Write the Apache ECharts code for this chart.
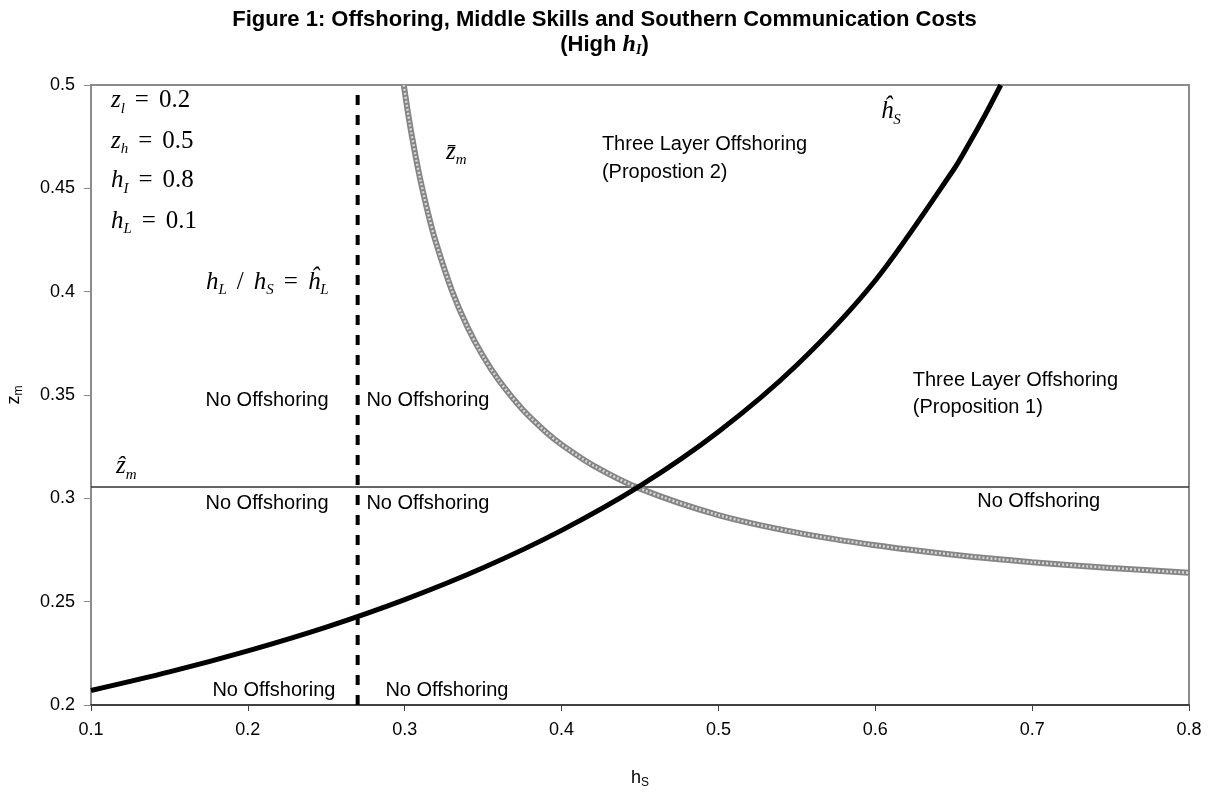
<!DOCTYPE html>
<html>
<head>
<meta charset="utf-8">
<title>Figure 1: Offshoring, Middle Skills and Southern Communication Costs</title>
<script src="https://cdn.jsdelivr.net/npm/echarts@6/dist/echarts.min.js"></script>
<style>
    html, body { margin: 0; padding: 0; background: #fff; }
    #chart { width: 1209px; height: 805px; }
</style>
</head>
<body>
<div id="chart"></div>
<script>
// ĥ_S boundary (thick black curve)
const hHatSX = [0.10, 0.15, 0.20, 0.25, 0.30, 0.35, 0.40, 0.45, 0.50, 0.55, 0.60, 0.65, 0.66, 0.67, 0.68];
const hHatSY = [0.2070, 0.2160, 0.2262, 0.2377, 0.2510, 0.2664, 0.2845, 0.3060, 0.3322, 0.3645, 0.4054, 0.4591, 0.4719, 0.4855, 0.5000];

// z̄_m boundary (grey curve)
const zBarX = [0.2994, 0.303, 0.307, 0.31, 0.315, 0.32, 0.33, 0.34, 0.35, 0.36, 0.375, 0.39, 0.40, 0.42, 0.45, 0.50, 0.55, 0.60, 0.65, 0.70, 0.75, 0.80];
const zBarY = [0.500, 0.4822, 0.4653, 0.4540, 0.4376, 0.4236, 0.4007, 0.3829, 0.3687, 0.3571, 0.3431, 0.3321, 0.3260, 0.3160, 0.3047, 0.2919, 0.2834, 0.2773, 0.2727, 0.2691, 0.2663, 0.2640];

// ẑ_m level and the h_L / h_S = ĥ_L cut-off
const zHatLevel = 0.3055;
const hLCut = 0.270;

// axes
const xTicks = [0.1, 0.8, 0.1];          // min, max, interval
const yTicks = [0.2, 0.5, 0.05];

const serif = "'Liberation Serif', 'DejaVu Serif', serif";
const sans = "'Liberation Sans', Arial, sans-serif";

const mathRich = {
    v: { fontFamily: serif, fontStyle: 'italic', fontSize: 25, lineHeight: 32, color: '#000' },
    r: { fontFamily: serif, fontSize: 25, lineHeight: 32, color: '#000' },
    g: { fontFamily: serif, fontSize: 25, lineHeight: 32, color: '#000', padding: [0, 10, 0, 10] },
    s: { fontFamily: serif, fontStyle: 'italic', fontSize: 15, lineHeight: 15, verticalAlign: 'bottom', color: '#000' }
};

// annotations: [h, z, text, align, math?]
const notes = [
    [0.1127, 0.4927, '{v|z}{s|l}{g|=}{r|0.2}', 'left', true],
    [0.1127, 0.4729, '{v|z}{s|h}{g|=}{r|0.5}', 'left', true],
    [0.1127, 0.4540, '{v|h}{s|I}{g|=}{r|0.8}', 'left', true],
    [0.1127, 0.4342, '{v|h}{s|L}{g|=}{r|0.1}', 'left', true],
    [0.1733, 0.4047, '{v|h}{s|L}{g|/}{v|h}{s|S}{g|=}{v|ĥ}{s|L}', 'left', true],
    [0.116, 0.3156, '{v|ẑ}{s|m}', 'left', true],
    [0.3263, 0.4676, '{v|z\u0304}{s|m}', 'left', true],
    [0.6035, 0.4870, '{v|ĥ}{s|S}', 'left', true],
    [0.4257, 0.4710, 'Three Layer Offshoring', 'left', false],
    [0.4257, 0.4579, '(Propostion 2)', 'left', false],
    [0.6239, 0.3572, 'Three Layer Offshoring', 'left', false],
    [0.6239, 0.3442, '(Proposition 1)', 'left', false],
    [0.2122, 0.3475, 'No Offshoring', 'center', false],
    [0.3148, 0.3475, 'No Offshoring', 'center', false],
    [0.2122, 0.2977, 'No Offshoring', 'center', false],
    [0.3148, 0.2977, 'No Offshoring', 'center', false],
    [0.2166, 0.2072, 'No Offshoring', 'center', false],
    [0.3269, 0.2072, 'No Offshoring', 'center', false],
    [0.7042, 0.2985, 'No Offshoring', 'center', false]
];

function zip(xs, ys) {
    return xs.map((x, i) => [x, ys[i]]);
}

function initChart() {
    const chart = echarts.init(document.getElementById('chart'));
    const zBarData = zip(zBarX, zBarY);
    const option = {
        animation: false,
        backgroundColor: '#fff',
        title: {
            left: 'center',
            top: 2,
            text: '{t|Figure 1: Offshoring, Middle Skills and Southern Communication Costs}\n{t|(High }{h|h}{i|I}{t|)}',
            textStyle: {
                rich: {
                    t: { fontFamily: sans, fontWeight: 'bold', fontSize: 22, lineHeight: 25, color: '#000' },
                    h: { fontFamily: serif, fontWeight: 'bold', fontStyle: 'italic', fontSize: 24, lineHeight: 25, color: '#000' },
                    i: { fontFamily: serif, fontWeight: 'bold', fontStyle: 'italic', fontSize: 14, lineHeight: 12, verticalAlign: 'bottom', color: '#000' }
                }
            }
        },
        grid: {
            left: 91, right: 20, top: 85, bottom: 100,
            containLabel: false,
            outerBoundsMode: 'none',
            show: true,
            borderColor: '#8c8c8c',
            borderWidth: 2
        },
        xAxis: {
            type: 'value',
            min: xTicks[0], max: xTicks[1], interval: xTicks[2],
            name: '{a|h}{b|S}',
            nameLocation: 'middle',
            nameGap: 62,
            nameTextStyle: {
                rich: {
                    a: { fontFamily: sans, fontSize: 18, lineHeight: 22, color: '#000' },
                    b: { fontFamily: sans, fontSize: 12, lineHeight: 12, verticalAlign: 'bottom', color: '#000' }
                }
            },
            axisLine: { onZero: false, lineStyle: { color: '#404040', width: 2 } },
            axisTick: { inside: false, length: 6, lineStyle: { color: '#404040' } },
            axisLabel: { fontFamily: sans, fontSize: 18, color: '#000', margin: 16 },
            splitLine: { show: false }
        },
        yAxis: {
            type: 'value',
            min: yTicks[0], max: yTicks[1], interval: yTicks[2],
            name: '{a|z}{b|m}',
            nameLocation: 'middle',
            nameGap: 66,
            nameRotate: 90,
            nameTextStyle: {
                rich: {
                    a: { fontFamily: sans, fontSize: 18, lineHeight: 22, color: '#000' },
                    b: { fontFamily: sans, fontSize: 12, lineHeight: 12, verticalAlign: 'bottom', color: '#000' }
                }
            },
            axisLine: { onZero: false, lineStyle: { color: '#8c8c8c', width: 2 } },
            axisTick: { inside: false, length: 7, lineStyle: { color: '#8c8c8c' } },
            axisLabel: { fontFamily: sans, fontSize: 18, color: '#000', margin: 16 },
            splitLine: { show: false }
        },
        series: [
            {
                name: 'zhat',
                type: 'line',
                data: [[xTicks[0], zHatLevel], [xTicks[1], zHatLevel]],
                showSymbol: false,
                lineStyle: { color: '#333', width: 1.5 },
                z: 2
            },
            {
                name: 'hLcut',
                type: 'line',
                data: [[hLCut, yTicks[0]], [hLCut, yTicks[1]]],
                showSymbol: false,
                lineStyle: { color: '#000', width: 4, type: [10, 10] },
                z: 3
            },
            {
                name: 'zbar',
                type: 'line',
                data: zBarData,
                smooth: 0.3,
                showSymbol: false,
                lineStyle: { color: '#858585', width: 6 },
                z: 4
            },
            {
                name: 'zbarTexture',
                type: 'line',
                data: zBarData,
                smooth: 0.3,
                showSymbol: false,
                lineStyle: { color: '#d6d6d6', width: 2.5, type: [2, 2] },
                z: 5
            },
            {
                name: 'hhatS',
                type: 'line',
                data: zip(hHatSX, hHatSY),
                smooth: 0.3,
                showSymbol: false,
                lineStyle: { color: '#000', width: 5 },
                z: 6
            }
        ]
    };
    chart.setOption(option);

    // place the text labels in data space
    const graphics = notes.map(([h, z, text, align, math]) => {
        const [x, y] = chart.convertToPixel({ gridIndex: 0 }, [h, z]);
        return {
            type: 'text',
            x: x,
            y: y,
            z: 100,
            style: math ? {
                text: text,
                rich: mathRich,
                align: align,
                verticalAlign: 'middle'
            } : {
                text: text,
                fontFamily: sans,
                fontSize: 20,
                fill: '#000',
                align: align,
                verticalAlign: 'middle'
            }
        };
    });
    chart.setOption({ graphic: graphics });
}

document.addEventListener('DOMContentLoaded', initChart);
</script>
</body>
</html>
